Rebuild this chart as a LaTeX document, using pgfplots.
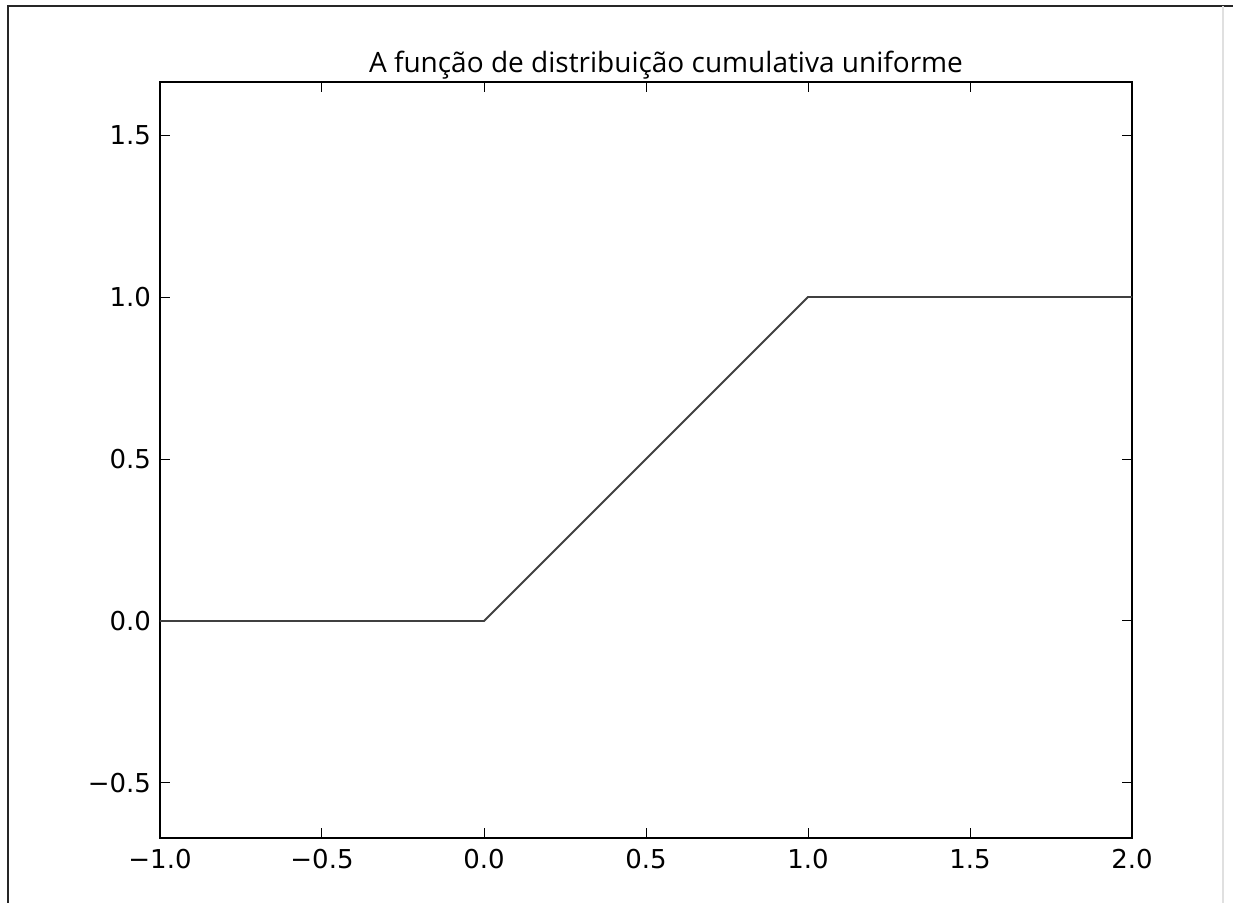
\documentclass[border=0pt]{standalone}
\usepackage{pgfplots}
\pgfplotsset{compat=1.18}
\usepackage{fontspec}
\setmainfont{DejaVu Sans}
\newfontfamily\titlefont{Open Sans}
\begin{document}
\begin{tikzpicture}
\useasboundingbox (-80pt,-32pt) rectangle (536.5pt,419pt);
\draw[line width=1pt, black!85] (-76pt,-40pt) -- (-76pt,416pt) -- (545pt,416pt);
\draw[line width=0.6pt, black!12] (531.5pt,416pt) -- (531.5pt,-40pt);
\begin{axis}[
  at={(0pt,0pt)}, anchor=south west,
  width=486pt, height=378pt, scale only axis,
  xmin=-1, xmax=2, ymin=-0.6698, ymax=1.6636,
  xtick={-1,-0.5,0,0.5,1,1.5,2},
  ytick={-0.5,0,0.5,1,1.5},
  xticklabels={−1.0,−0.5,0.0,0.5,1.0,1.5,2.0},
  yticklabels={−0.5,0.0,0.5,1.0,1.5},
  tick align=inside,
  major tick length=5pt,
  tick style={line width=0.5pt, black},
  axis line style={line width=1pt, black},
  ticklabel style={font=\fontsize{13pt}{15pt}\selectfont},
  xticklabel style={yshift=-2pt},
  yticklabel style={xshift=-1pt},
  clip=false,
]
\addplot[line width=0.9pt, black!75] coordinates {(-1,0) (0,0) (1,1) (2,1)};
\end{axis}
\node[anchor=base, font=\titlefont\fontsize{14pt}{16pt}\selectfont] at (253pt,383pt) {A função de distribuição cumulativa uniforme};
\end{tikzpicture}
\end{document}
